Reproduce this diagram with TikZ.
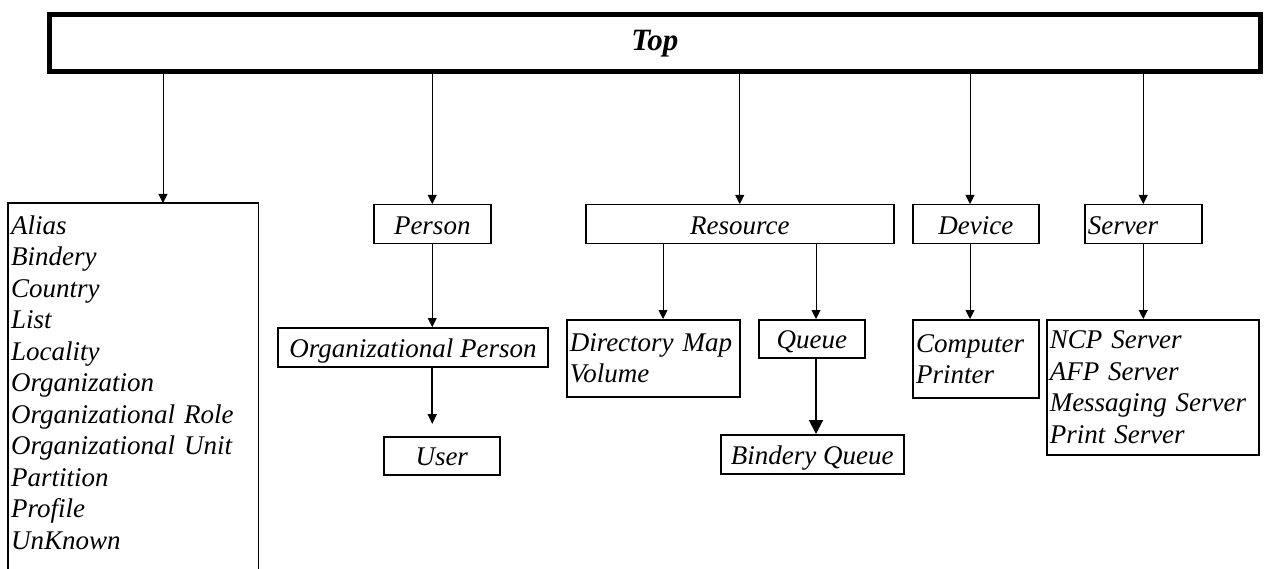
\documentclass[tikz,border=0pt]{standalone}
\usepackage{fontspec}
\setmainfont{Liberation Serif}
\usetikzlibrary{arrows.meta}
\begin{document}
\begin{tikzpicture}[x=1pt,y=-1pt,
  every node/.style={font=\fontsize{27}{31.5}\selectfont\itshape, inner xsep=3pt, inner ysep=0pt, anchor=north west},
  box/.style={draw, line width=1.5pt},
  sline/.style={text height=20pt, text depth=0pt},
  thickbox/.style={draw, line width=2pt},
  arr/.style={line width=0.9pt, -{Triangle[length=9pt,width=9pt]}},
  tarr/.style={line width=2pt, -{Triangle[length=10pt,width=9pt]}},
  barr/.style={line width=2pt, -{Triangle[length=14pt,width=14pt]}},
  edge3/.style={line width=1.5pt}
]
\useasboundingbox (0,0) rectangle (1266,569);

% Top
\node[draw, line width=4.8pt, minimum width=1211pt, minimum height=57pt,
      font=\fontsize{31}{36}\selectfont\bfseries\itshape, text height=20pt, text depth=4pt]
  (top) at (47,12) {Top};

% Level 1
\node[draw=none, minimum width=250pt, minimum height=358.6pt, text width=244pt, align=left]
  (misc) at (8,203) {Alias\\Bindery\\Country\\List\\Locality\\Organization\\Organizational Role\\Organizational Unit\\Partition\\Profile\\UnKnown};
\node[box, sline, minimum width=117pt, minimum height=39pt] (person) at (373,204) {Person};
\node[box, sline, minimum width=308pt, minimum height=39pt] (res) at (585,204) {Resource};
\node[box, sline, minimum width=126pt, minimum height=39pt] (dev) at (912,204) {Device};
\node[box, sline, minimum width=117pt, minimum height=39pt, text width=111pt, align=left] (srv) at (1084,204) {Server};

% Level 2
\node[thickbox, sline, minimum width=270pt, minimum height=39pt] (orgp) at (277,327) {Organizational Person};
\node[box, minimum width=173pt, minimum height=77pt, text width=167pt, align=left] (dm) at (566,319) {Directory Map\\Volume};
\node[box, sline, minimum width=106pt, minimum height=38pt] (queue) at (758,319) {Queue};
\node[thickbox, minimum width=126pt, minimum height=78pt, text width=120pt, align=left] (cp) at (912,319) {Computer\\Printer};
\node[box, minimum width=212pt, minimum height=135pt, text width=206pt, align=left] (ncp) at (1046,319) {NCP Server\\AFP Server\\Messaging Server\\Print Server};

% Level 3
\node[box, sline, minimum width=116pt, minimum height=38pt] (user) at (383,436) {User};
\node[box, sline, minimum width=183pt, minimum height=39pt] (bq) at (720,434) {Bindery Queue};

% open box for misc
\coordinate (bot) at (0,580);
\draw[edge3] (misc.north west |- bot) -- (misc.north west) -- (misc.north east) -- (misc.north east |- bot);

% connectors
\coordinate (mIn) at (163,203);
\coordinate (devIn) at (970,204);
\coordinate (dmIn) at (663,319);
\coordinate (qIn) at (816,319);
\draw[arr] (top.south -| mIn) -- (mIn);
\draw[arr] (top.south -| person.north) -- (person.north);
\draw[arr] (top.south -| res.north) -- (res.north);
\draw[arr] (top.south -| devIn) -- (devIn);
\draw[arr] (top.south -| srv.north) -- (srv.north);
\draw[arr] (person.south) -- (person.south |- orgp.north);
\draw[tarr, shorten >=12pt] (person.south |- orgp.south) -- (person.south |- user.north);
\draw[arr] (res.south -| dmIn) -- (dmIn);
\draw[arr] (res.south -| qIn) -- (qIn);
\draw[barr] (queue.south -| qIn) -- (bq.north -| qIn);
\draw[arr] (dev.south -| devIn) -- (cp.north -| devIn);
\draw[arr] (srv.south) -- (ncp.north -| srv.south);
\end{tikzpicture}
\end{document}
